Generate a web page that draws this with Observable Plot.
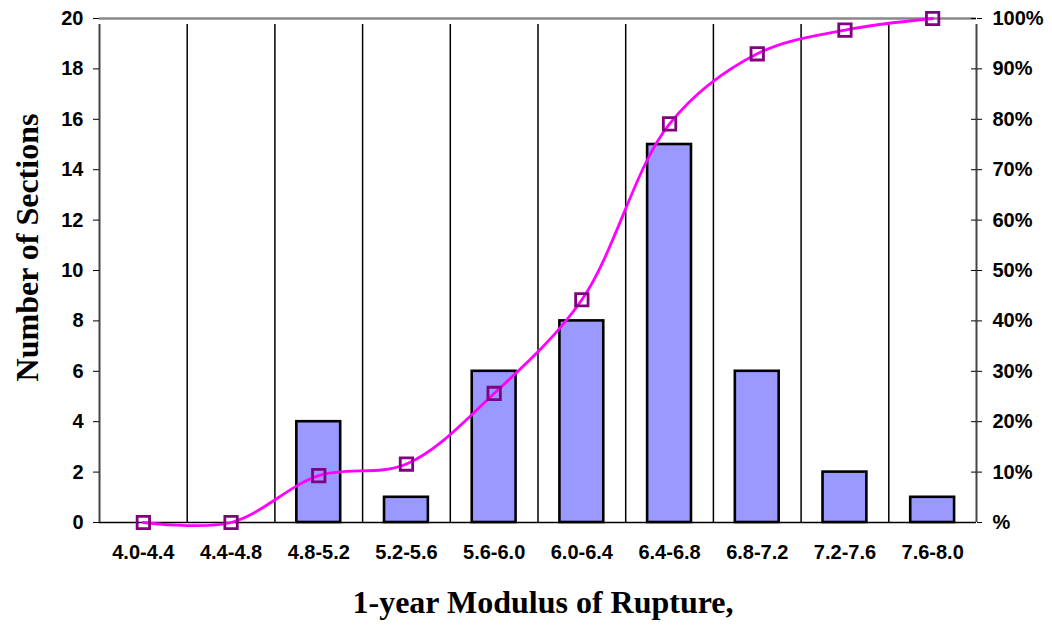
<!DOCTYPE html>
<html><head><meta charset="utf-8">
<script src="https://cdn.jsdelivr.net/npm/d3@7"></script>
<script src="https://cdn.jsdelivr.net/npm/@observablehq/plot@0.6"></script>
<style>body{margin:0;background:#fff}</style>
</head><body><div id="chart"></div>
<script>
const categories = ["4.0-4.4","4.4-4.8","4.8-5.2","5.2-5.6","5.6-6.0","6.0-6.4","6.4-6.8","6.8-7.2","7.2-7.6","7.6-8.0"];
const counts = [0,0,4,1,6,8,15,6,2,1];
const cumulativePct = [0,0,9.3,11.6,25.6,44.2,79.1,93.0,97.7,100];
const leftTicks = [0,2,4,6,8,10,12,14,16,18,20];
const rightTickLabels = ["%","10%","20%","30%","40%","50%","60%","70%","80%","90%","100%"];

const bars = categories.map((c,i)=>({cat:c, n:counts[i]}));
const cum = categories.map((c,i)=>({cat:c, y:cumulativePct[i]/5}));

const W=1052,H=630,mL=99,mR=76,mT=18,mB=108;
const step=(W-mL-mR)/categories.length;
const tickFont = {fontFamily:"'Liberation Sans', Arial, sans-serif", fontWeight:"bold", fontSize:20};
const titleFont = {fontFamily:"'Liberation Serif', 'Times New Roman', serif", fontWeight:"bold", fontSize:32, fill:"#000"};
const first = categories[0], last = categories[categories.length-1];

const chart = Plot.plot({
  width:W, height:H, marginLeft:mL, marginRight:mR, marginTop:mT, marginBottom:mB,
  style:{fontFamily:"'Liberation Sans', Arial, sans-serif", fontWeight:"bold", overflow:"visible"},
  x:{type:"band", domain:categories, paddingInner:0.5, paddingOuter:0.25, round:false},
  y:{domain:[0,20]},
  marks:[
    // category boundaries
    Plot.ruleX(categories.slice(1), {x:d=>d, y1:0, y2:20, dx:-step/2, stroke:"#000", strokeWidth:1.5, insetBottom:-6}),
    Plot.ruleY([20], {stroke:"#888", strokeWidth:2.5}),
    Plot.barY(bars, {x:"cat", y:"n", fill:"#9999FF", stroke:"#000", strokeWidth:2.6}),
    Plot.ruleY([0], {stroke:"#000", strokeWidth:1.5}),
    Plot.ruleX([first], {x:d=>d, y1:0, y2:20, dx:-step/2, stroke:"#444", strokeWidth:2, insetBottom:-6}),
    Plot.ruleX([last], {x:d=>d, y1:0, y2:20, dx:step/2, stroke:"#444", strokeWidth:2, insetBottom:-6}),
    Plot.axisY(leftTicks, {anchor:"left", tickSize:6, tickPadding:10, stroke:"#000", ...tickFont, label:null}),
    Plot.axisY(leftTicks, {anchor:"right", tickSize:5, tickPadding:11, tickFormat:(d,i)=>rightTickLabels[i], ...tickFont, textAnchor:"start", label:null}),
    Plot.tickY(leftTicks, {y:d=>d, stroke:"#000", insetLeft:(W-mL-mR)-5}),
    Plot.line(cum, {x:"cat", y:"y", curve:"catmull-rom", stroke:"#FF00FF", strokeWidth:2.8}),
    Plot.dot(cum, {x:"cat", y:"y", symbol:"square", r:7, stroke:"#800080", strokeWidth:2.8, fill:"none"}),
    Plot.axisX({tickSize:0, tickPadding:22, ...tickFont, label:null}),
    Plot.text(["Number of Sections"], {frameAnchor:"left", textAnchor:"middle", dx:-72, dy:-23, rotate:-90, ...titleFont}),
    Plot.text(["1-year Modulus of Rupture,"], {frameAnchor:"bottom", textAnchor:"middle", dx:5, dy:90, ...titleFont})
  ]
});
document.getElementById("chart").append(chart);
</script>
</body></html>
